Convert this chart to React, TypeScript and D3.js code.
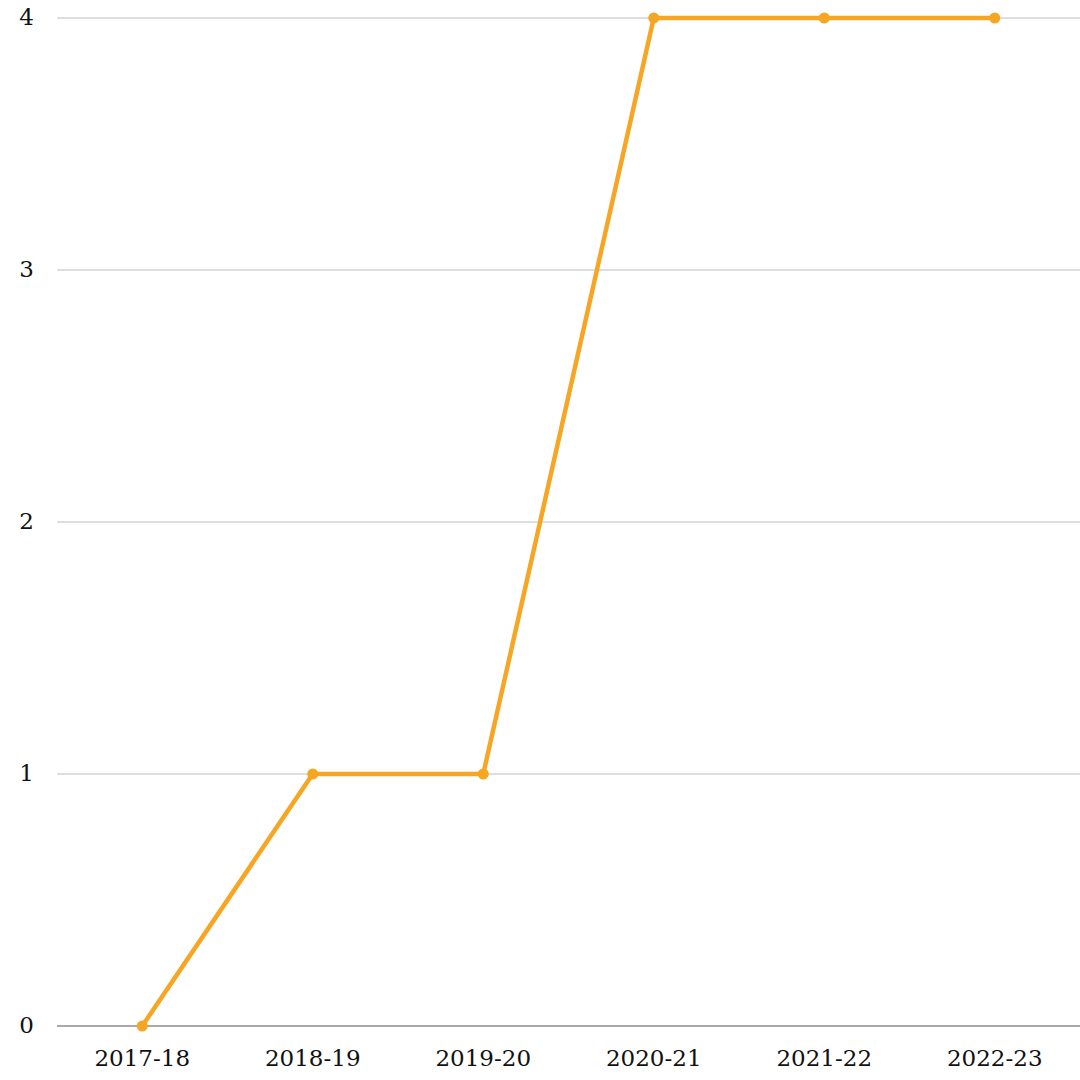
import { useEffect, useRef } from "react";
import * as d3 from "d3";

const years = ["2017-18", "2018-19", "2019-20", "2020-21", "2021-22", "2022-23"];
const values = [0, 1, 1, 4, 4, 4];
const yTicks = [0, 1, 2, 3, 4];

const W = 1080;
const H = 1080;

export default function App() {
  const svgRef = useRef<SVGSVGElement>(null);

  useEffect(() => {
    if (!svgRef.current) return;
    const margin = { top: 18, right: 0, bottom: 54, left: 57 };

    const svg = d3.select(svgRef.current);
    svg.selectAll("*").remove();

    const x = d3
      .scalePoint<string>()
      .domain(years)
      .range([margin.left, W - margin.right])
      .padding(0.5);

    const y = d3
      .scaleLinear()
      .domain([0, 4])
      .range([H - margin.bottom, margin.top]);

    // grid lines
    svg
      .append("g")
      .selectAll("line")
      .data(yTicks)
      .join("line")
      .attr("x1", margin.left)
      .attr("x2", W - margin.right)
      .attr("y1", (d) => y(d))
      .attr("y2", (d) => y(d))
      .attr("stroke", (d) => (d === 0 ? "#8c8c8c" : "#bdbdbd"))
      .attr("stroke-width", (d) => (d === 0 ? 1.5 : 1));

    // y labels
    svg
      .append("g")
      .selectAll("text")
      .data(yTicks)
      .join("text")
      .attr("x", 34)
      .attr("y", (d) => y(d) + 7)
      .attr("text-anchor", "end")
      .attr("font-family", "DejaVu Serif, serif")
      .attr("font-size", 23)
      .attr("fill", "#111")
      .text((d) => d);

    // x labels
    svg
      .append("g")
      .selectAll("text")
      .data(years)
      .join("text")
      .attr("x", (d) => x(d)!)
      .attr("y", H - 14)
      .attr("text-anchor", "middle")
      .attr("font-family", "DejaVu Serif, serif")
      .attr("font-size", 23)
      .attr("fill", "#111")
      .text((d) => d);

    const line = d3
      .line<number>()
      .x((_, i) => x(years[i])!)
      .y((d) => y(d));

    svg
      .append("path")
      .datum(values)
      .attr("d", line)
      .attr("fill", "none")
      .attr("stroke", "#f6a623")
      .attr("stroke-width", 4.5)
      .attr("stroke-linejoin", "round");

    svg
      .append("g")
      .selectAll("circle")
      .data(values)
      .join("circle")
      .attr("cx", (_, i) => x(years[i])!)
      .attr("cy", (d) => y(d))
      .attr("r", 5.5)
      .attr("fill", "#f6a623");
  }, []);

  return (
    <div style={{ position: "absolute", top: 0, left: 0, background: "#fff" }}>
      <svg ref={svgRef} width={W} height={H} style={{ display: "block" }} />
    </div>
  );
}
